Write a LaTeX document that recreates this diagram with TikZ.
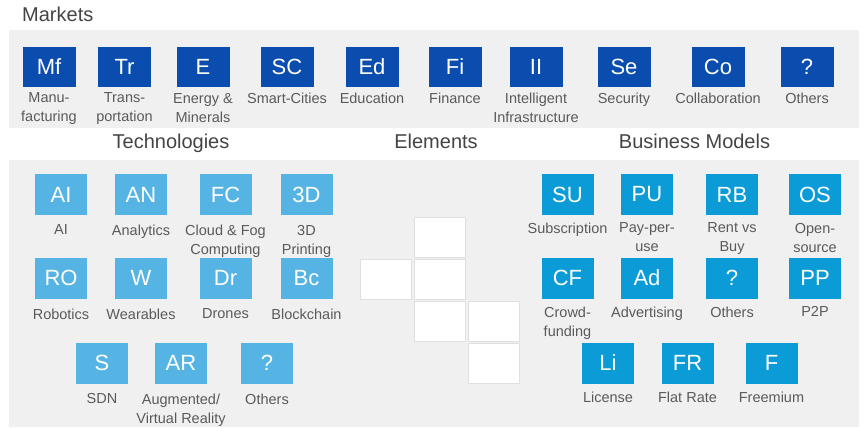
\documentclass[tikz,border=0pt]{standalone}
\usepackage{fontspec}
\setmainfont{Liberation Sans}
\usepackage{tikz}
\usetikzlibrary{positioning}

\definecolor{mktblue}{HTML}{0A4DAF}
\definecolor{techblue}{HTML}{55B4E3}
\definecolor{bizblue}{HTML}{0B9CD8}
\definecolor{bandgrey}{HTML}{F0F0F0}
\definecolor{txtgrey}{HTML}{5A5A5A}
\definecolor{hdrgrey}{HTML}{444444}

\tikzset{
    tile/.style={minimum width=52pt, minimum height=41pt, inner sep=0pt, text=white, font=\fontsize{22}{24}\selectfont},
    mkt/.style={tile, fill=mktblue, minimum width=53pt, minimum height=40pt},
    tech/.style={tile, fill=techblue},
    biz/.style={tile, fill=bizblue},
    cell/.style={minimum width=51pt, minimum height=40pt, inner sep=0pt, fill=white, draw=black!12, line width=0.6pt},
    caption/.style={align=center, text=txtgrey, font=\fontsize{14.5}{19}\selectfont, inner sep=0pt},
    head/.style={text=hdrgrey, font=\fontsize{20}{22}\selectfont, inner sep=0pt}
}

\begin{document}
\begin{tikzpicture}[x=1pt, y=-1pt]
        \useasboundingbox (0,0) rectangle (867,428);
        \fill[bandgrey] (9,30) rectangle (859,128);
        \fill[bandgrey] (9,160) rectangle (859,427);

        \node[head, anchor=base west] (markets) at (22,22) {Markets};
        \node[head, anchor=base] (technologies) at (171,148) {Technologies};
        \node[head, anchor=base] (elements) at (436,148) {Elements};
        \node[head, anchor=base] (models) at (694.5,148) {Business Models};

        \foreach \x/\id/\abbr/\txt in {49/mf/Mf/{Manu-\\facturing}, 124.5/tr/Tr/{Trans-\\portation}, 203/en/E/{Energy \&\\Minerals}, 287/sc/SC/Smart-Cities, 372/ed/Ed/Education, 455/fi/Fi/Finance, 536/ii/II/{Intelligent\\Infrastructure}, 624/se/Se/Security, 718/co/Co/Collaboration, 807/ot/?/Others} {
            \node[mkt] (m-\id) at (\x,67) {\abbr};
            \node[caption, below=5.6pt of m-\id] (m-\id-t) {\txt};
        }

        \foreach \x/\y/\id/\abbr/\txt in {61/194.5/ai/AI/AI, 141/194.5/an/AN/Analytics, 225.5/194.5/fc/FC/{Cloud \& Fog\\Computing}, 306.5/194.5/td/3D/{3D\\Printing}, 61/278/ro/RO/Robotics, 141/278/w/W/Wearables, 225.5/278/dr/Dr/Drones, 306.5/278/bc/Bc/Blockchain, 102/363/sdn/S/SDN, 181/363/ar/AR/{Augmented/\\Virtual Reality}, 267/363/ot/?/Others} {
            \node[tech] (t-\id) at (\x,\y) {\abbr};
            \node[caption, below=9.6pt of t-\id] (t-\id-t) {\txt};
        }

        \foreach \x/\y/\id in {440/237.5/e1, 385.5/279.5/e2, 440/279.5/e3, 440/321.5/e4, 493.5/321.5/e5, 493.5/363.5/e6}
            \node[cell] (\id) at (\x,\y) {};

        \foreach \x/\y/\id/\abbr/\txt in {567.5/194.5/su/SU/Subscription, 647/194.5/pu/PU/{Pay-per-\\use}, 732/194.5/rb/RB/{Rent vs\\Buy}, 815/194.5/os/OS/{Open-\\source}, 567.5/278/cf/CF/{Crowd-\\funding}, 647/278/ad/Ad/Advertising, 732/278/ot/?/Others, 815/278/pp/PP/P2P, 608/363/li/Li/License, 687.5/363/fr/FR/Flat Rate, 771.5/363/fm/F/Freemium} {
            \node[biz] (b-\id) at (\x,\y) {\abbr};
            \node[caption, below=7.6pt of b-\id] (b-\id-t) {\txt};
        }
    \end{tikzpicture}
\end{document}
